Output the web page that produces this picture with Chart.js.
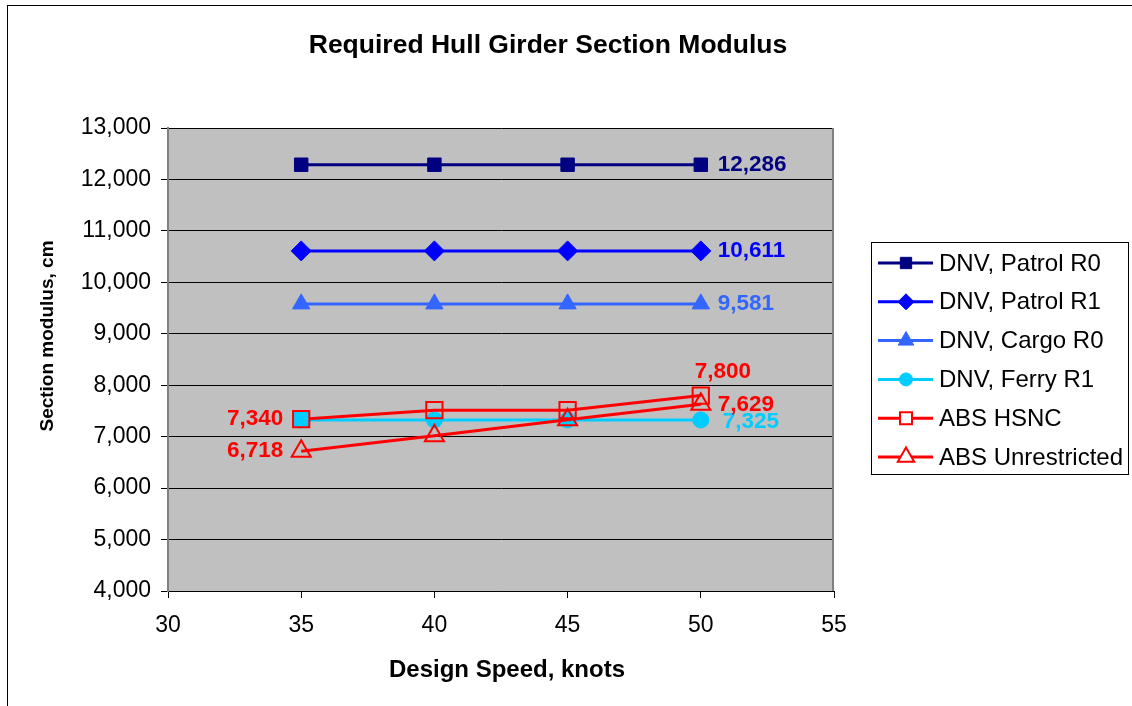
<!DOCTYPE html>
<html>
<head>
<meta charset="utf-8">
<script src="https://cdn.jsdelivr.net/npm/chart.js@4/dist/chart.umd.min.js"></script>
<style>
  html, body { margin: 0; padding: 0; background: #fff; overflow: hidden; }
  #wrap { width: 1132px; height: 706px; }
</style>
</head>
<body>
<div id="wrap"><canvas id="c" width="1132" height="706"></canvas></div>
<script>
// --- data ---
const speeds = [35, 40, 45, 50];
const patrolR0 = [12286, 12286, 12286, 12286];
const patrolR1 = [10611, 10611, 10611, 10611];
const cargoR0 = [9581, 9581, 9581, 9581];
const ferryR1 = [7325, 7325, 7325, 7325];
const absHsnc = [7340, 7515, 7515, 7800];
const absUnrestricted = [6718, 7020, 7330, 7629];

const seriesNames = ["DNV, Patrol R0", "DNV, Patrol R1", "DNV, Cargo R0", "DNV, Ferry R1", "ABS HSNC", "ABS Unrestricted"];
const xTickValues = [30, 35, 40, 45, 50, 55];
const yTickValues = [4000, 5000, 6000, 7000, 8000, 9000, 10000, 11000, 12000, 13000];

const chartTitle = "Required Hull Girder Section Modulus";
const xTitle = "Design Speed, knots";
const yTitle = "Section modulus, cm";

// which points carry a value label, and where
const valueLabels = [
  { ds: 0, i: 3, pos: "right" },
  { ds: 1, i: 3, pos: "right" },
  { ds: 2, i: 3, pos: "right" },
  { ds: 3, i: 3, pos: "right2" },
  { ds: 4, i: 0, pos: "left" },
  { ds: 4, i: 3, pos: "above" },
  { ds: 5, i: 0, pos: "left" },
  { ds: 5, i: 3, pos: "right" }
];

const FONT = "'Liberation Sans', Arial, sans-serif";
const NAVY = "#000080", BLUE = "#0000FF", MID = "#3366FF", CYAN = "#00CCFF", RED = "#FF0000";

const styles = [
  { color: NAVY, point: "rect", r: 9.5, fill: NAVY, lr: 8 },
  { color: BLUE, point: "rectRot", r: 10, fill: BLUE, lr: 8 },
  { color: MID, point: "triangle", r: 10, fill: MID, lr: 9 },
  { color: CYAN, point: "circle", r: 8, fill: CYAN, lr: 6.5 },
  { color: RED, point: "rect", r: 11.5, fill: [CYAN, "rgba(0,0,0,0)", "rgba(0,0,0,0)", "rgba(0,0,0,0)"], lfill: "#fff", lr: 8.5, bw: 2 },
  { color: RED, point: "triangle", r: 11, fill: "rgba(0,0,0,0)", lfill: "#fff", lr: 9.5, bw: 2 }
];

const allSeries = [patrolR0, patrolR1, cargoR0, ferryR1, absHsnc, absUnrestricted];

const datasets = allSeries.map((vals, k) => ({
  label: seriesNames[k],
  data: vals.map((v, i) => ({ x: speeds[i], y: v })),
  borderColor: styles[k].color,
  borderWidth: 3,
  pointStyle: styles[k].point,
  pointRadius: styles[k].r,
  pointBackgroundColor: styles[k].fill,
  pointBorderColor: styles[k].color,
  pointBorderWidth: styles[k].bw || 1,
  tension: 0,
  order: allSeries.length - k
}));

const fmt = v => v.toLocaleString("en-US");

function marker(ctx, style, x, y, r, fill, stroke, lw) {
  ctx.beginPath();
  if (style === "rect") {
    const s = Math.SQRT1_2 * r;
    ctx.rect(x - s, y - s, 2 * s, 2 * s);
  } else if (style === "rectRot") {
    ctx.moveTo(x, y - r); ctx.lineTo(x + r, y); ctx.lineTo(x, y + r); ctx.lineTo(x - r, y);
    ctx.closePath();
  } else if (style === "triangle") {
    let a = 0;
    ctx.moveTo(x + Math.sin(a) * r, y - Math.cos(a) * r);
    a += Math.PI * 2 / 3;
    ctx.lineTo(x + Math.sin(a) * r, y - Math.cos(a) * r);
    a += Math.PI * 2 / 3;
    ctx.lineTo(x + Math.sin(a) * r, y - Math.cos(a) * r);
    ctx.closePath();
  } else {
    ctx.arc(x, y, r, 0, Math.PI * 2);
  }
  ctx.fillStyle = fill; ctx.fill();
  ctx.lineWidth = lw; ctx.strokeStyle = stroke; ctx.stroke();
}

const decor = {
  id: "decor",
  beforeDraw(chart) {
    const { ctx, chartArea: a } = chart;
    ctx.save();
    ctx.fillStyle = "#fff";
    ctx.fillRect(0, 0, chart.width, chart.height);
    ctx.strokeStyle = "#000"; ctx.lineWidth = 1;
    ctx.strokeRect(7.5, 5.5, 1300, 900);
    ctx.fillStyle = "#C0C0C0";
    ctx.fillRect(a.left, a.top, a.right - a.left, a.bottom - a.top);
    ctx.restore();
  },
  afterDraw(chart) {
    const { ctx, chartArea: a } = chart;
    const xs = chart.scales.x, ys = chart.scales.y;
    ctx.save();
    // plot right border
    ctx.strokeStyle = "#808080"; ctx.lineWidth = 2;
    ctx.beginPath(); ctx.moveTo(a.right - 1, a.top); ctx.lineTo(a.right - 1, a.bottom); ctx.stroke();

    // value labels
    ctx.font = "bold 22.5px " + FONT;
    ctx.textBaseline = "middle";
    valueLabels.forEach(l => {
      const v = allSeries[l.ds][l.i];
      const px = xs.getPixelForValue(speeds[l.i]);
      const py = ys.getPixelForValue(v);
      ctx.fillStyle = styles[l.ds].color;
      if (l.pos === "right") { ctx.textAlign = "left"; ctx.fillText(fmt(v), px + 17, py); }
      else if (l.pos === "right2") { ctx.textAlign = "left"; ctx.fillText(fmt(v), px + 22, py + 2); }
      else if (l.pos === "left") { ctx.textAlign = "right"; ctx.fillText(fmt(v), px - 18, py); }
      else { ctx.textAlign = "center"; ctx.fillText(fmt(v), px + 22, py - 24); }
    });

    // title and axis titles
    ctx.fillStyle = "#000";
    ctx.textAlign = "center";
    ctx.textBaseline = "alphabetic";
    ctx.font = "bold 26.5px " + FONT;
    ctx.fillText(chartTitle, 548, 53);
    ctx.font = "bold 24px " + FONT;
    ctx.fillText(xTitle, 507, 677);
    ctx.save();
    ctx.translate(48, 336);
    ctx.rotate(-Math.PI / 2);
    ctx.font = "bold 19px " + FONT;
    ctx.textBaseline = "middle";
    ctx.fillText(yTitle, 0, 0);
    ctx.restore();

    // legend
    ctx.strokeStyle = "#000"; ctx.lineWidth = 1;
    ctx.strokeRect(871.5, 242.5, 257, 232);
    ctx.font = "24px " + FONT;
    ctx.textAlign = "left"; ctx.textBaseline = "middle";
    seriesNames.forEach((name, k) => {
      const y = 263 + k * 38.8;
      const st = styles[k];
      ctx.strokeStyle = st.color; ctx.lineWidth = 3;
      ctx.beginPath(); ctx.moveTo(878, y); ctx.lineTo(933, y); ctx.stroke();
      marker(ctx, st.point, 906, y, st.lr, st.lfill || st.fill, st.color, st.bw || 1);
      ctx.fillStyle = "#000";
      ctx.fillText(name, 939, y + 1);
    });
    ctx.restore();
  }
};

new Chart(document.getElementById("c"), {
  type: "line",
  data: { datasets },
  options: {
    responsive: false,
    animation: false,
    devicePixelRatio: 1,
    layout: { padding: { left: 0, top: 128, right: 298, bottom: 55 } },
    plugins: { legend: { display: false }, title: { display: false }, tooltip: { enabled: false } },
    scales: {
      x: {
        type: "linear",
        min: 30, max: 55,
        afterBuildTicks: s => { s.ticks = xTickValues.map(v => ({ value: v })); },
        afterFit: s => { s.height = 60; s.paddingLeft = 0; s.paddingRight = 0; },
        grid: { drawOnChartArea: false, drawTicks: true, tickLength: 7, tickColor: "#000" },
        border: { color: "#000", width: 1 },
        ticks: { color: "#000", font: { family: FONT, size: 23 }, padding: 14, maxRotation: 0 }
      },
      y: {
        min: 4000, max: 13000,
        afterBuildTicks: s => { s.ticks = yTickValues.map(v => ({ value: v })); },
        afterFit: s => { s.width = 168; s.paddingTop = 0; s.paddingBottom = 0; },
        grid: { color: "#000", lineWidth: 1, drawTicks: true, tickLength: 7, tickColor: "#000" },
        border: { color: "#808080", width: 2 },
        ticks: { color: "#000", font: { family: FONT, size: 23 }, padding: 10, callback: v => fmt(v) }
      }
    }
  },
  plugins: [decor]
});
</script>
</body>
</html>
